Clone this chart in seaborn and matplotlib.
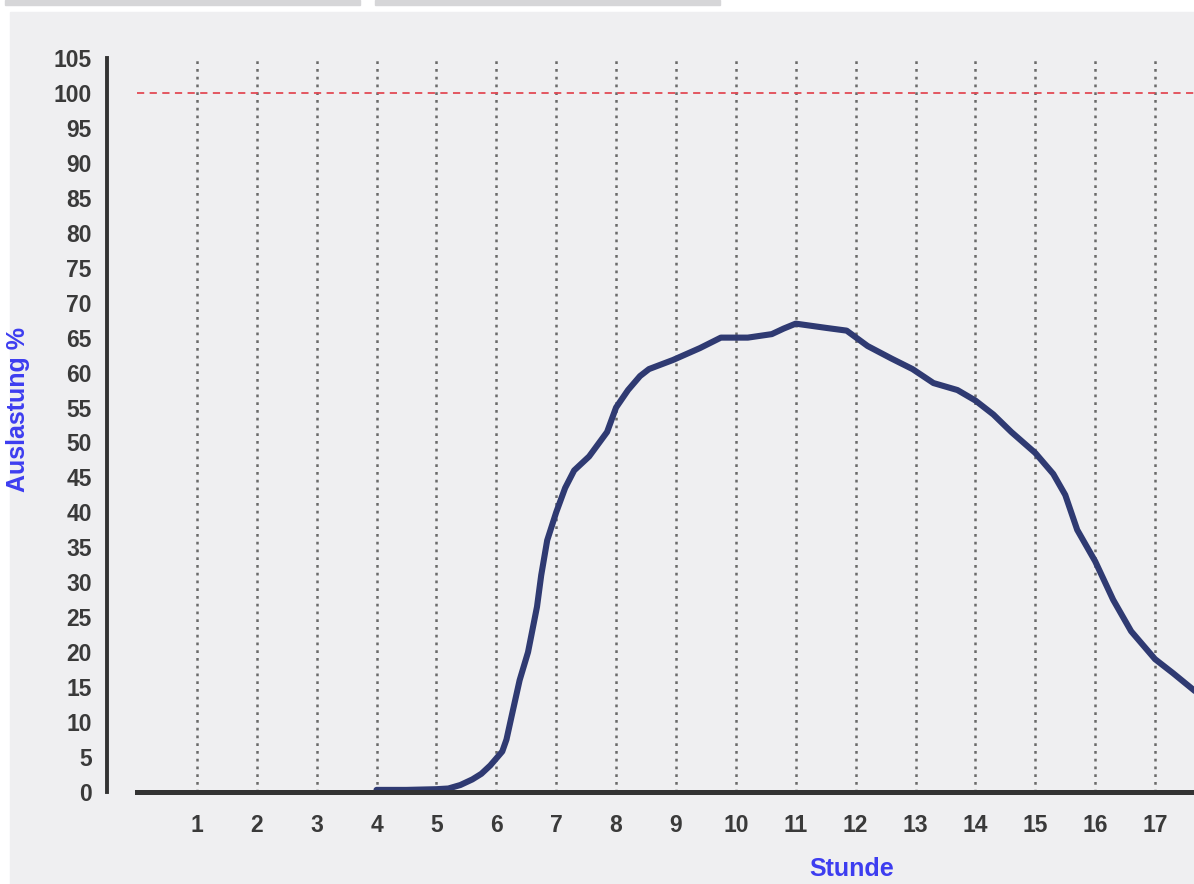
import matplotlib
matplotlib.use("Agg")
import matplotlib.pyplot as plt
import seaborn as sns
from matplotlib.patches import Rectangle

# Auslastung over the day
hours = [4.0, 4.5, 5.0, 5.2, 5.4, 5.6, 5.75, 5.9, 6.1, 6.17, 6.26, 6.39, 6.53,
         6.68, 6.75, 6.85, 7.0, 7.15, 7.3, 7.55, 7.85, 8.0, 8.2, 8.4, 8.55,
         8.95, 9.4, 9.75, 10.2, 10.6, 10.8, 11.0, 11.5, 11.85, 12.2, 12.6,
         12.95, 13.3, 13.7, 14.0, 14.3, 14.6, 15.0, 15.3, 15.5, 15.7, 16.0,
         16.3, 16.6, 17.0, 17.3, 17.7]
load = [0.3, 0.3, 0.4, 0.5, 1.0, 1.8, 2.6, 3.8, 5.8, 7.5, 11, 16, 20,
        26.5, 31, 36, 40, 43.5, 46, 48, 51.5, 55, 57.5, 59.5, 60.5,
        61.8, 63.5, 65, 65, 65.5, 66.3, 67, 66.4, 66, 63.8, 62,
        60.5, 58.5, 57.5, 56, 54, 51.5, 48.5, 45.5, 42.5, 37.5, 33,
        27.5, 23, 19, 17, 14.2]
x_ticks = list(range(1, 18))
y_ticks = list(range(0, 106, 5))
limit = 100

sns.set_style("white")
plt.rcParams["font.family"] = ["Liberation Sans", "DejaVu Sans"]

panel = "#efeff1"
fig = plt.figure(figsize=(11.94, 8.84), dpi=100, facecolor="white")
fig.patches.append(Rectangle((10 / 1194, 0), 1, (884 - 12) / 884,
                             transform=fig.transFigure, color=panel, zorder=-5))
for x0, x1 in [(5, 360), (375, 720)]:
    fig.patches.append(Rectangle((x0 / 1194, (884 - 5) / 884), (x1 - x0) / 1194, 5 / 884,
                                 transform=fig.transFigure, color="#d6d6d8", zorder=-5))

ax = fig.add_axes([107 / 1194, (884 - 792) / 884, 1 - 107 / 1194, (792 - 58) / 884])
ax.set_facecolor(panel)

xmax = 17.65
ax.set_xlim(-0.5, xmax)
ax.set_ylim(0, 105)

ax.grid(False)
for h in x_ticks:
    ax.axvline(h, color="#6a6a6a", lw=1.8, dashes=(1.1, 2.0), zorder=1)

ax.hlines(limit, 0, xmax, colors="#e24a55", linestyles=(0, (4, 3)), lw=1.3, zorder=2)

sns.lineplot(x=hours, y=load, ax=ax, color="#2f3a72", lw=4.4, zorder=3)
ax.lines[-1].set_clip_on(False)

for s in ["top", "right"]:
    ax.spines[s].set_visible(False)
ax.spines["left"].set_linewidth(2.8)
ax.spines["left"].set_color("#333333")
ax.spines["left"].set_bounds(0, 105)
ax.spines["bottom"].set_linewidth(3.6)
ax.spines["bottom"].set_color("#333333")
ax.spines["bottom"].set_bounds(0, xmax)
ax.spines["bottom"].set_zorder(4)

ax.set_xticks(x_ticks)
ax.set_yticks(y_ticks)
ax.tick_params(axis="x", direction="inout", length=16, width=1.8, color="#505050",
               pad=8, labelsize=16.5, labelcolor="#3a3a3a")
ax.tick_params(axis="y", direction="out", length=6, width=1.6, color="#505050",
               pad=5, labelsize=16.5, labelcolor="#3a3a3a")
for lab in ax.get_xticklabels() + ax.get_yticklabels():
    lab.set_fontweight("bold")

ax.set_xlabel("Stunde", color="#3d3df0", fontsize=18, fontweight="bold")
ax.xaxis.set_label_coords((852 - 107) / 1087, (792 - 857) / 734)
ax.set_ylabel("Auslastung %", color="#3d3df0", fontsize=18, fontweight="bold")
ax.yaxis.set_label_coords((30 - 107) / 1087, (792 - 410) / 734)

fig.savefig("out.png", dpi=100, facecolor=fig.get_facecolor())
